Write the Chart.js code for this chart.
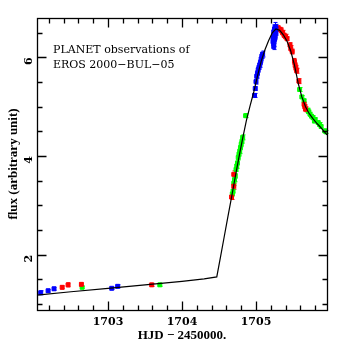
<!DOCTYPE html>
<html>
<head>
<meta charset="utf-8">
<script src="https://cdn.jsdelivr.net/npm/chart.js@4.4.0/dist/chart.umd.min.js"></script>
<style>
html, body { margin: 0; padding: 0; background: #fff; }
#wrap { width: 346px; height: 346px; }
</style>
</head>
<body>
<div id="wrap"><canvas id="chartLightCurve"></canvas></div>
<script>
// light curve, HJD - 2450000
var modelHjd = [1702.04, 1702.5, 1703.0, 1703.5, 1704.0, 1704.3, 1704.47, 1704.52, 1704.57, 1704.62,
    1704.67, 1704.72, 1704.77, 1704.82, 1704.87, 1704.92, 1704.97, 1705.02, 1705.07, 1705.12,
    1705.17, 1705.22, 1705.27, 1705.32, 1705.37, 1705.42, 1705.47, 1705.52, 1705.57, 1705.62,
    1705.67, 1705.72, 1705.77, 1705.82, 1705.87, 1705.92, 1705.96];
var modelFlux = [1.18, 1.25, 1.32, 1.39, 1.46, 1.51, 1.55, 1.95, 2.36, 2.77,
    3.17, 3.58, 3.98, 4.36, 4.72, 5.02, 5.30, 5.62, 5.92, 6.15,
    6.34, 6.50, 6.58, 6.55, 6.46, 6.33, 6.13, 5.85, 5.48, 5.20,
    5.00, 4.86, 4.76, 4.67, 4.59, 4.50, 4.43];

var blueHjd = [1702.09, 1702.19, 1702.27, 1703.05, 1703.13, 1704.98, 1704.99, 1705.00, 1705.01, 1705.02,
    1705.03, 1705.04, 1705.05, 1705.06, 1705.07, 1705.08, 1705.09,
    1705.23, 1705.23, 1705.24, 1705.24, 1705.24, 1705.25, 1705.25, 1705.25, 1705.26, 1705.26,
    1705.26, 1705.27, 1705.27, 1705.24];
var blueFlux = [1.23, 1.27, 1.31, 1.32, 1.36, 5.23, 5.37, 5.51, 5.62, 5.68,
    5.75, 5.80, 5.85, 5.90, 5.97, 6.03, 6.07,
    6.32, 6.40, 6.28, 6.45, 6.52, 6.36, 6.48, 6.58, 6.42, 6.55,
    6.62, 6.50, 6.60, 6.22];
var blueErr = [0.04, 0.03, 0.03, 0.02, 0.03, 0.04, 0.04, 0.05, 0.04, 0.05,
    0.05, 0.04, 0.05, 0.05, 0.06, 0.05, 0.06,
    0.06, 0.05, 0.06, 0.05, 0.06, 0.06, 0.05, 0.08, 0.06, 0.06,
    0.09, 0.05, 0.07, 0.06];

var redHjd = [1702.38, 1702.46, 1702.64, 1703.59, 1704.67, 1704.70, 1704.70,
    1705.30, 1705.32, 1705.34, 1705.36, 1705.38, 1705.40, 1705.42, 1705.46, 1705.47, 1705.49,
    1705.52, 1705.53, 1705.54, 1705.55, 1705.58, 1705.65, 1705.66, 1705.67];
var redFlux = [1.34, 1.39, 1.40, 1.39, 3.17, 3.39, 3.63,
    6.60, 6.57, 6.55, 6.50, 6.45, 6.42, 6.38, 6.25, 6.18, 6.12,
    5.92, 5.84, 5.78, 5.73, 5.52, 5.05, 5.00, 4.95];
var redErr = [0.03, 0.04, 0.03, 0.03, 0.05, 0.06, 0.07,
    0.04, 0.04, 0.05, 0.05, 0.04, 0.05, 0.04, 0.05, 0.06, 0.05,
    0.06, 0.05, 0.06, 0.05, 0.05, 0.05, 0.04, 0.05];

var greenHjd = [1702.65, 1703.70, 1704.68, 1704.69, 1704.70, 1704.71, 1704.72, 1704.73, 1704.74, 1704.75,
    1704.76, 1704.77, 1704.78, 1704.79, 1704.80, 1704.81, 1704.82, 1704.86,
    1705.59, 1705.62, 1705.65, 1705.70, 1705.71, 1705.73, 1705.75, 1705.77, 1705.79, 1705.80,
    1705.84, 1705.86, 1705.88, 1705.93, 1705.95];
var greenFlux = [1.34, 1.39, 3.23, 3.29, 3.45, 3.52, 3.60, 3.73, 3.80, 3.86,
    3.97, 4.04, 4.10, 4.17, 4.24, 4.30, 4.38, 4.82,
    5.35, 5.20, 5.12, 4.93, 4.90, 4.85, 4.81, 4.78, 4.71, 4.74,
    4.68, 4.64, 4.60, 4.51, 4.49];
var greenErr = [0.02, 0.03, 0.04, 0.04, 0.05, 0.04, 0.05, 0.04, 0.05, 0.04,
    0.05, 0.04, 0.05, 0.04, 0.05, 0.04, 0.05, 0.04,
    0.04, 0.03, 0.04, 0.04, 0.03, 0.04, 0.03, 0.04, 0.03, 0.04,
    0.03, 0.04, 0.03, 0.04, 0.03];

var xMajorTicks = [1703, 1704, 1705];
var yMajorTicks = [2, 4, 6];
var xMinorStep = 0.2;
var yMinorStep = 0.5;

var serif = "'DejaVu Serif', 'Liberation Serif', serif";
var times = "'Liberation Serif', serif";

function toPoints(xs, ys) {
    var pts = [];
    for (var i = 0; i < xs.length; i++) {
        pts.push({ x: xs[i], y: ys[i] });
    }
    return pts;
}

function obsDataset(label, color, xs, ys, errs) {
    return {
        type: 'scatter',
        label: label,
        data: toPoints(xs, ys),
        errors: errs,
        pointStyle: 'rect',
        pointRadius: 2.8,
        borderWidth: 1,
        borderColor: color,
        backgroundColor: color
    };
}

// vertical error bars for the observation sets
var errorBars = {
    id: 'errorBars',
    beforeDatasetsDraw: function (chart) {
        var ctx = chart.ctx;
        var xs = chart.scales.x, ys = chart.scales.y;
        ctx.save();
        ctx.lineWidth = 1;
        chart.data.datasets.forEach(function (ds) {
            if (!ds.errors) return;
            ctx.strokeStyle = ds.borderColor;
            ds.data.forEach(function (p, i) {
                var px = Math.round(xs.getPixelForValue(p.x)) + 0.5;
                var top = ys.getPixelForValue(p.y + ds.errors[i]);
                var bot = ys.getPixelForValue(p.y - ds.errors[i]);
                ctx.beginPath();
                ctx.moveTo(px, top); ctx.lineTo(px, bot);
                ctx.moveTo(px - 2, top); ctx.lineTo(px + 2, top);
                ctx.moveTo(px - 2, bot); ctx.lineTo(px + 2, bot);
                ctx.stroke();
            });
        });
        ctx.restore();
    }
};

// box round the plot with inward ticks on all four sides
var frameTicks = {
    id: 'frameTicks',
    afterDraw: function (chart) {
        var ctx = chart.ctx;
        var a = chart.chartArea;
        var xs = chart.scales.x, ys = chart.scales.y;
        var l = Math.round(a.left) + 0.5, r = Math.round(a.right) + 0.5;
        var t = Math.round(a.top) + 0.5, b = Math.round(a.bottom) + 0.5;
        ctx.save();
        ctx.strokeStyle = '#000';
        ctx.lineWidth = 1.3;
        ctx.strokeRect(l, t, r - l, b - t);
        ctx.beginPath();
        var v, px, len;
        for (v = Math.ceil(xs.min / xMinorStep) * xMinorStep; v <= xs.max; v += xMinorStep) {
            px = Math.round(xs.getPixelForValue(v)) + 0.5;
            len = Math.abs(v - Math.round(v)) < 1e-6 ? 9 : 5;
            ctx.moveTo(px, b); ctx.lineTo(px, b - len);
            ctx.moveTo(px, t); ctx.lineTo(px, t + len);
        }
        for (v = Math.ceil(ys.min / yMinorStep) * yMinorStep; v <= ys.max; v += yMinorStep) {
            px = Math.round(ys.getPixelForValue(v)) + 0.5;
            len = yMajorTicks.indexOf(Math.round(v * 10) / 10) >= 0 ? 9 : 5;
            ctx.moveTo(l, px); ctx.lineTo(l + len, px);
            ctx.moveTo(r, px); ctx.lineTo(r - len, px);
        }
        ctx.stroke();
        ctx.restore();
    }
};

// caption in the upper left of the plot
var caption = {
    id: 'caption',
    afterDraw: function (chart) {
        var ctx = chart.ctx;
        var a = chart.chartArea;
        ctx.save();
        ctx.fillStyle = '#000';
        ctx.font = '11px ' + serif;
        ctx.textBaseline = 'middle';
        ctx.fillText('PLANET observations of', a.left + 16, a.top + 32);
        ctx.fillText('EROS 2000\u2212BUL\u221205', a.left + 16, a.top + 47);
        ctx.restore();
    }
};

var ctx = document.getElementById('chartLightCurve');
var chart = new Chart(ctx, {
    data: {
        datasets: [
            {
                type: 'line',
                label: 'model',
                data: toPoints(modelHjd, modelFlux),
                borderColor: '#000',
                borderWidth: 1.2,
                pointRadius: 0,
                tension: 0,
                fill: false
            },
            obsDataset('blue', '#0000ff', blueHjd, blueFlux, blueErr),
            obsDataset('red', '#ff0000', redHjd, redFlux, redErr),
            obsDataset('green', '#00ff00', greenHjd, greenFlux, greenErr)
        ]
    },
    options: {
        responsive: true,
        maintainAspectRatio: false,
        animation: false,
        layout: { padding: { top: 18, right: 19, left: 0, bottom: 0 } },
        plugins: { legend: { display: false }, tooltip: { enabled: false } },
        scales: {
            x: {
                type: 'linear',
                min: 1702.04,
                max: 1705.96,
                grid: { display: false, drawTicks: false },
                border: { display: false },
                afterBuildTicks: function (scale) {
                    scale.ticks = xMajorTicks.map(function (v) { return { value: v }; });
                },
                afterFit: function (scale) { scale.height = 36; },
                ticks: {
                    color: '#000',
                    padding: 6,
                    maxRotation: 0,
                    font: { family: serif, size: 11, weight: 'bold' },
                    callback: function (v) { return String(v); }
                },
                title: {
                    display: true,
                    text: 'HJD \u2212 2450000.',
                    color: '#000',
                    padding: { top: 0, bottom: 3 },
                    font: { family: times, size: 13, weight: 'bold' }
                }
            },
            y: {
                type: 'linear',
                min: 0.88,
                max: 6.8,
                grid: { display: false, drawTicks: false },
                border: { display: false },
                afterBuildTicks: function (scale) {
                    scale.ticks = yMajorTicks.map(function (v) { return { value: v }; });
                },
                afterFit: function (scale) { scale.width = 37; },
                ticks: {
                    color: '#000',
                    padding: 8,
                    minRotation: 90,
                    maxRotation: 90,
                    font: { family: serif, size: 11, weight: 'bold' }
                },
                title: {
                    display: true,
                    text: 'flux (arbitrary unit)',
                    color: '#000',
                    padding: { top: 6, bottom: 0 },
                    font: { family: times, size: 13, weight: 'bold' }
                }
            }
        }
    },
    plugins: [errorBars, frameTicks, caption]
});
</script>
</body>
</html>
